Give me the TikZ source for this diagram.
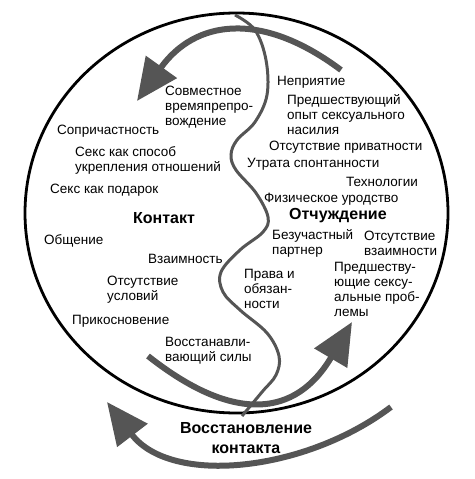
\documentclass[tikz,border=0pt]{standalone}
\usepackage{fontspec}
\setmainfont{Liberation Sans}
\usetikzlibrary{arrows.meta}
\definecolor{arrowgray}{RGB}{85,85,85}

\begin{document}
\begin{tikzpicture}[x=1pt,y=-1pt,
	lbl/.style={anchor=west, align=left, inner sep=0pt, font=\fontsize{13.5}{15}\selectfont},
	title/.style={lbl, font=\fontsize{16}{20}\selectfont\bfseries},
	bigarrow/.style={line width=6pt, arrowgray, -{Triangle[length=42pt,width=37pt]}},
	sline/.style={line width=3pt, arrowgray}]
	\useasboundingbox (0,0) rectangle (474,479);

	\draw[line width=2.8pt] (236.5,213) ellipse [x radius=211.5pt, y radius=200pt];

	\draw[bigarrow] (341,70) .. controls (261,10) and (195,20) .. (137,101);
	\draw[bigarrow] (148,356) .. controls (234,424) and (296,417) .. (352,322);
	\draw[bigarrow] (391,407) .. controls (305,472) and (171,486) .. (107,402);

	\draw[sline] plot[smooth, tension=0.6] coordinates {
		(235,15) (255,30) (266,60) (267,95) (255,122) (237,140) (231,155)
		(236,170) (256,193) (268,217) (263,232) (240,250) (221,272) (223,292)
		(240,310) (267,333) (279,356) (276,375) (262,392) (242,416)};

	% left half
	\node[lbl] (together) at (165,107) {Совместное\\времяпрепро-\\вождение};
	\node[lbl] (belong) at (57,131) {Сопричастность};
	\node[lbl] (bond) at (75,160.5) {Секс как способ\\укрепления отношений};
	\node[lbl] (gift) at (50,190) {Секс как подарок};
	\node[title] (contact) at (133,218) {Контакт};
	\node[lbl] (talk) at (44,241) {Общение};
	\node[lbl] (mutual) at (148,259) {Взаимность};
	\node[lbl] (nocond) at (107,289.5) {Отсутствие\\условий};
	\node[lbl] (touch) at (72,321) {Прикосновение};
	\node[lbl] (restore) at (165,350.5) {Восстанавли-\\вающий силы};

	% right half
	\node[lbl] (reject) at (277,82) {Неприятие};
	\node[lbl] (abuse) at (287,115) {Предшествующий\\опыт сексуального\\насилия};
	\node[lbl] (privacy) at (269,147) {Отсутствие приватности};
	\node[lbl] (spont) at (247,164) {Утрата спонтанности};
	\node[lbl] (tech) at (346,182) {Технологии};
	\node[lbl] (ugly) at (264,199) {Физическое уродство};
	\node[title] (alien) at (289,216) {Отчуждение};
	\node[lbl] (indiff) at (272,243.5) {Безучастный\\партнер};
	\node[lbl] (nomutual) at (364,243.5) {Отсутствие\\взаимности};
	\node[lbl] (rights) at (244,289) {Права и\\обязан-\\ности};
	\node[lbl] (problems) at (334,289.5) {Предшеству-\\ющие сексу-\\альные проб-\\лемы};

	\node[title, anchor=center, align=center] (recon) at (246,438) {Восстановление\\контакта};
\end{tikzpicture}
\end{document}
